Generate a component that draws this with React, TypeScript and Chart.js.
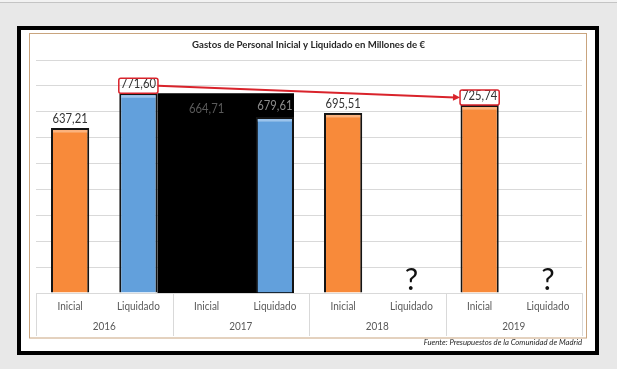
import React, { useEffect, useRef } from 'react';
import { Chart, registerables } from 'chart.js';

Chart.register(...registerables);

const years = ['2016', '2017', '2018', '2019'];
const kinds = ['Inicial', 'Liquidado'];
const inicial: (number | null)[] = [637.21, 664.71, 695.51, 725.74];
const liquidado: (number | null)[] = [771.6, 679.61, null, null];
const yMin = 0;
const yMax = 900;
const yStep = 100;
const title = 'Gastos de Personal Inicial y Liquidado en Millones de €';
const source = 'Fuente: Presupuestos de la Comunidad de Madrid';
const maskedYear = '2017';
const arrowFrom = { year: '2016', kind: 'Liquidado' };
const arrowTo = { year: '2019', kind: 'Inicial' };

const categories = years.flatMap((y) => kinds.map((k) => `${k}|${y}`));
const values = years.flatMap((_, i) => [inicial[i], liquidado[i]]);
const maskedIdx = years.indexOf(maskedYear) * 2;

const ORANGE = '#f88a3a';
const ORANGE_HI = '#fbb37e';
const BLUE = '#62a0dc';
const BLUE_HI = '#9cc4ec';
const RED = '#d9232b';
const FONT = 'Lato, "Open Sans", sans-serif';

function fmt(v: number) {
  return v.toFixed(2).replace('.', ',');
}

function txt(
  ctx: CanvasRenderingContext2D,
  s: string,
  x: number,
  y: number,
  font: string,
  color: string,
  align: CanvasTextAlign = 'center',
  sx = 1
) {
  ctx.save();
  ctx.translate(x, y);
  ctx.scale(sx, 1);
  ctx.font = font;
  ctx.fillStyle = color;
  ctx.textAlign = align;
  ctx.textBaseline = 'middle';
  ctx.fillText(s, 0, 0);
  ctx.restore();
}

function textW(ctx: CanvasRenderingContext2D, s: string, font: string, sx = 1) {
  ctx.save();
  ctx.font = font;
  const w = ctx.measureText(s).width * sx;
  ctx.restore();
  return w;
}

function maskBounds(chart: any) {
  const bars = chart.getDatasetMeta(0).data;
  const prev = bars[maskedIdx - 1];
  const last = bars[maskedIdx + 1];
  return {
    l: prev.x + prev.width / 2,
    r: last.x + last.width / 2,
    t: prev.y,
    b: chart.scales.y.getPixelForValue(0),
  };
}

const decorPlugin = {
  id: 'decor',
  beforeDraw(chart: any) {
    const ctx: CanvasRenderingContext2D = chart.ctx;
    const W = chart.width;
    const H = chart.height;
    ctx.save();
    ctx.fillStyle = '#e8e8e8';
    ctx.fillRect(0, 0, W, H);
    ctx.fillStyle = '#f2f2f2';
    ctx.fillRect(0, 0, W, 2);
    ctx.fillStyle = '#c4c4c4';
    ctx.fillRect(0, 2, W, 1);
    ctx.fillStyle = '#ffffff';
    ctx.fillRect(17, 26, 582, 329);
    ctx.strokeStyle = '#000000';
    ctx.lineWidth = 4;
    ctx.strokeRect(19, 28, 578, 325);
    ctx.strokeStyle = '#c9a47e';
    ctx.lineWidth = 1;
    ctx.strokeRect(29.5, 33.5, 557, 304.5);
    ctx.restore();
  },
  beforeDatasetsDraw(chart: any) {
    const ctx: CanvasRenderingContext2D = chart.ctx;
    const m = maskBounds(chart);
    ctx.save();
    ctx.fillStyle = '#000000';
    ctx.fillRect(m.l, m.t, m.r - m.l, m.b - m.t);
    ctx.restore();
  },
  afterDatasetsDraw(chart: any) {
    const ctx: CanvasRenderingContext2D = chart.ctx;
    const meta = chart.getDatasetMeta(0);
    const xs = chart.scales.x;
    const ys = chart.scales.y;
    const bars = meta.data;
    const half = (xs.getPixelForValue(1) - xs.getPixelForValue(0)) / 2;
    const base = ys.getPixelForValue(0);
    const m = maskBounds(chart);

    ctx.save();
    values.forEach((v, i) => {
      if (v == null || i === maskedIdx) return;
      const b = bars[i];
      ctx.fillStyle = i % 2 === 0 ? ORANGE_HI : BLUE_HI;
      ctx.fillRect(b.x - b.width / 2 + 2, b.y + 2, b.width - 4, 2.5);
    });
    ctx.restore();

    const labelFont = `12.5px ${FONT}`;
    const LSX = 0.9;
    const labelPos: { x: number; y: number; w: number }[] = [];
    values.forEach((v, i) => {
      const x = xs.getPixelForValue(i);
      if (v == null) {
        txt(ctx, '?', x, base - 13, `30px ${FONT}`, '#111111');
        labelPos.push({ x, y: 0, w: 0 });
        return;
      }
      const b = bars[i];
      const s = fmt(v);
      const inMask = x > m.l && x < m.r;
      let color = '#333333';
      let cy = b.y - 9;
      if (inMask) {
        color = i % 2 === 0 ? '#5a5a5a' : '#8c8c8c';
        cy = i % 2 === 0 ? b.y - 12 : b.y - 11;
      }
      txt(ctx, s, x, cy, labelFont, color, 'center', LSX);
      labelPos.push({ x, y: cy, w: textW(ctx, s, labelFont, LSX) });
    });

    const fi = years.indexOf(arrowFrom.year) * 2 + kinds.indexOf(arrowFrom.kind);
    const ti = years.indexOf(arrowTo.year) * 2 + kinds.indexOf(arrowTo.kind);
    const boxes = [fi, ti].map((i) => {
      const p = labelPos[i];
      const b = bars[i];
      const w = p.w + 4;
      const h = 15;
      return { x0: p.x - w / 2, y0: b.y - h, w, h };
    });
    ctx.save();
    ctx.strokeStyle = RED;
    ctx.lineWidth = 1.5;
    boxes.forEach((bx) => {
      ctx.beginPath();
      (ctx as any).roundRect(bx.x0, bx.y0, bx.w, bx.h, 2);
      ctx.stroke();
    });
    const ax0 = boxes[0].x0 + boxes[0].w;
    const ay0 = boxes[0].y0 + boxes[0].h / 2;
    const ax1 = boxes[1].x0;
    const ay1 = boxes[1].y0 + boxes[1].h / 2;
    const ang = Math.atan2(ay1 - ay0, ax1 - ax0);
    ctx.lineWidth = 2;
    ctx.beginPath();
    ctx.moveTo(ax0, ay0);
    ctx.lineTo(ax1 - 5 * Math.cos(ang), ay1 - 5 * Math.sin(ang));
    ctx.stroke();
    ctx.fillStyle = RED;
    ctx.beginPath();
    ctx.moveTo(ax1, ay1);
    ctx.lineTo(ax1 - 7 * Math.cos(ang) + 3.5 * Math.sin(ang), ay1 - 7 * Math.sin(ang) - 3.5 * Math.cos(ang));
    ctx.lineTo(ax1 - 7 * Math.cos(ang) - 3.5 * Math.sin(ang), ay1 - 7 * Math.sin(ang) + 3.5 * Math.cos(ang));
    ctx.closePath();
    ctx.fill();
    ctx.restore();

    const tableBottom = 336;
    ctx.save();
    ctx.strokeStyle = '#d9d9d9';
    ctx.lineWidth = 1;
    ctx.beginPath();
    ctx.moveTo(xs.getPixelForValue(0) - half, Math.round(base) + 0.5);
    ctx.lineTo(xs.getPixelForValue(categories.length - 1) + half, Math.round(base) + 0.5);
    for (let g = 0; g <= years.length; g++) {
      const x = Math.round(xs.getPixelForValue(g * 2) - half) + 0.5;
      ctx.moveTo(x, base);
      ctx.lineTo(x, tableBottom);
    }
    ctx.stroke();
    ctx.restore();
    const catFont = `10.5px ${FONT}`;
    categories.forEach((c, i) => {
      const x = xs.getPixelForValue(i);
      txt(ctx, c.split('|')[0], x, 307, catFont, '#595959', 'center', 0.95);
    });
    years.forEach((y, g) => {
      const x = (xs.getPixelForValue(g * 2) + xs.getPixelForValue(g * 2 + 1)) / 2;
      txt(ctx, y, x, 327, catFont, '#595959', 'center', 0.95);
    });

    txt(ctx, title, 308.5, 45, `bold 10px ${FONT}`, '#262626', 'center', 0.96);
    const right = xs.getPixelForValue(categories.length - 1) + half;
    txt(ctx, source, right, 343, `italic 7.5px ${FONT}`, '#262626', 'right', 1.03);
  },
};

export default function App() {
  const ref = useRef<HTMLCanvasElement | null>(null);
  useEffect(() => {
    if (!ref.current) return;
    const chart = new Chart(ref.current, {
      type: 'bar',
      data: {
        labels: categories,
        datasets: [
          {
            data: values as any,
            backgroundColor: values.map((_, i) =>
              i === maskedIdx ? 'rgba(0,0,0,0)' : i % 2 === 0 ? ORANGE : BLUE
            ),
            borderColor: values.map((_, i) => (i === maskedIdx ? 'rgba(0,0,0,0)' : '#141414')),
            borderWidth: 2,
            barPercentage: 0.56,
            categoryPercentage: 1,
          },
        ],
      },
      options: {
        responsive: false,
        animation: false,
        devicePixelRatio: 1,
        layout: { padding: { left: 36, right: 35, top: 60, bottom: 76 } },
        plugins: { legend: { display: false }, tooltip: { enabled: false }, title: { display: false } },
        scales: {
          x: { display: false },
          y: {
            min: yMin,
            max: yMax,
            ticks: { stepSize: yStep, display: false },
            grid: { color: '#d9d9d9', drawTicks: false },
            border: { display: false },
            afterFit: (s: any) => {
              s.width = 0;
            },
          },
        },
      },
      plugins: [decorPlugin],
    });
    return () => chart.destroy();
  }, []);
  return (
    <div style={{ position: 'absolute', left: 0, top: 0, width: 617, height: 369 }}>
      <canvas ref={ref} width={617} height={369} style={{ display: 'block' }} />
    </div>
  );
}
